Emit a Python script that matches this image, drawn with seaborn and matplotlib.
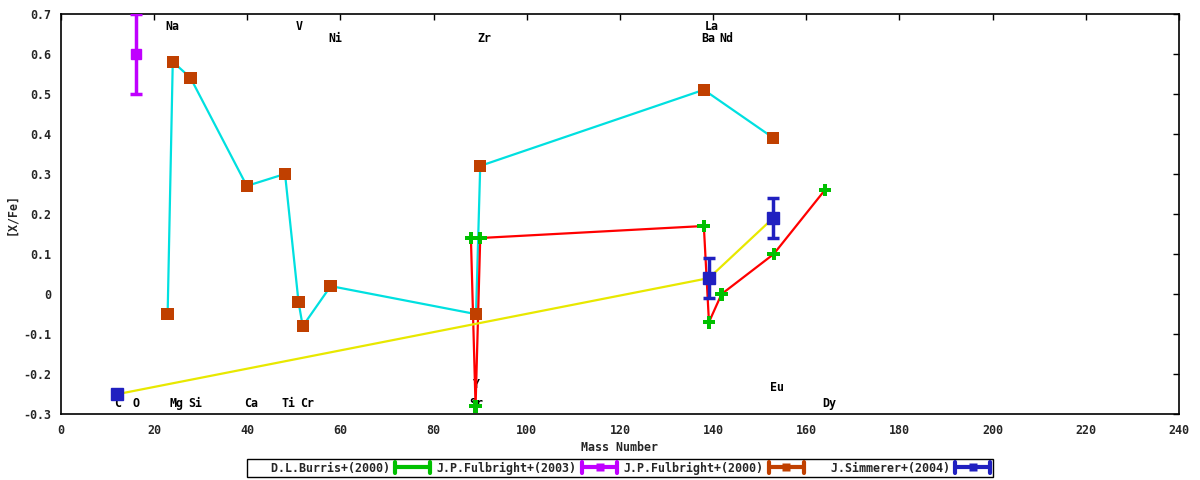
import matplotlib
matplotlib.use("Agg")
import matplotlib.pyplot as plt
import seaborn as sns
import pandas as pd
from matplotlib.legend_handler import HandlerBase
from matplotlib.lines import Line2D

# ---------------- data ----------------
burris_mass = [88.0, 89.0, 90.0, 138.0, 139.1, 141.8, 153.0, 164.0]
burris_xfe = [0.14, -0.28, 0.14, 0.17, -0.07, 0.00, 0.10, 0.26]

fulb03_mass = [16.1]
fulb03_xfe = [0.60]
fulb03_err = [0.10]

fulb00_mass = [22.9, 24.0, 27.8, 39.9, 48.1, 51.0, 51.9, 57.9, 89.1, 90.0, 138.0, 152.9]
fulb00_xfe = [-0.05, 0.58, 0.54, 0.27, 0.30, -0.02, -0.08, 0.02, -0.05, 0.32, 0.51, 0.39]

simm_mass = [12.0, 139.1, 152.9]
simm_xfe = [-0.25, 0.04, 0.19]
simm_err = [0.0, 0.05, 0.05]

elem_names = ["C", "O", "Mg", "Si", "Ca", "Ti", "Cr", "Sr", "Y",
              "Na", "V", "Ni", "Zr", "La", "Ba", "Nd", "Eu", "Dy"]
elem_x = [12.2, 16.1, 24.8, 28.8, 40.9, 48.9, 52.9, 89.1, 89.1,
          24.0, 51.1, 58.9, 90.8, 139.8, 139.0, 142.9, 153.8, 164.9]
elem_y = [-0.272, -0.272, -0.272, -0.272, -0.272, -0.272, -0.272, -0.272, -0.226,
          0.669, 0.669, 0.639, 0.639, 0.669, 0.639, 0.639, -0.233, -0.272]

series_names = ["D.L.Burris+(2000)", "J.P.Fulbright+(2003)",
                "J.P.Fulbright+(2000)", "J.Simmerer+(2004)"]

x_ticks = list(range(0, 241, 20))
y_ticks = [-0.3, -0.2, -0.1, 0, 0.1, 0.2, 0.3, 0.4, 0.5, 0.6, 0.7]
y_ticklabels = ["-0.3", "-0.2", "-0.1", "0", "0.1", "0.2", "0.3", "0.4", "0.5", "0.6", "0.7"]

# ---------------- style ----------------
FS = 8.4
sns.set_style("white")
plt.rcParams["font.family"] = ["DejaVu Sans Mono", "DejaVu Sans"]
plt.rcParams["font.weight"] = "bold"
plt.rcParams["font.size"] = FS

C_GREEN = "#00c000"
C_MAG = "#c000ff"
C_ORANGE = "#c04000"
C_BLUE = "#2020c0"
C_CYAN = "#00e0e0"
C_RED = "#ff0000"
C_YELLOW = "#e8e800"

df_b = pd.DataFrame({"mass": burris_mass, "xfe": burris_xfe})
df_f3 = pd.DataFrame({"mass": fulb03_mass, "xfe": fulb03_xfe, "err": fulb03_err})
df_f0 = pd.DataFrame({"mass": fulb00_mass, "xfe": fulb00_xfe})
df_s = pd.DataFrame({"mass": simm_mass, "xfe": simm_xfe, "err": simm_err})

fig = plt.figure(figsize=(12, 4.8), dpi=100)
ax = fig.add_axes([0.0508, 0.1369, 0.9317, 0.8346])

# connecting lines
sns.lineplot(data=df_f0, x="mass", y="xfe", sort=False, estimator=None,
             color=C_CYAN, lw=1.6, ax=ax, zorder=3)
sns.lineplot(data=df_b, x="mass", y="xfe", sort=False, estimator=None,
             color=C_RED, lw=1.6, ax=ax, zorder=3)
sns.lineplot(data=df_s, x="mass", y="xfe", sort=False, estimator=None,
             color=C_YELLOW, lw=1.6, ax=ax, zorder=3)

# markers
sns.scatterplot(data=df_f0, x="mass", y="xfe", marker="s", s=80, color=C_ORANGE,
                edgecolor="none", ax=ax, zorder=5)
sns.scatterplot(data=df_b, x="mass", y="xfe", marker="P", s=85, color=C_GREEN,
                edgecolor="none", ax=ax, zorder=6)
ax.errorbar(df_f3["mass"], df_f3["xfe"], yerr=df_f3["err"], fmt="s", ms=7,
            color=C_MAG, ecolor=C_MAG, elinewidth=2.5, capsize=4, capthick=2.5, zorder=6)
ax.errorbar(df_s["mass"], df_s["xfe"], yerr=df_s["err"], fmt="s", ms=8.5,
            color=C_BLUE, ecolor=C_BLUE, elinewidth=2.5, capsize=4, capthick=2.5, zorder=6)

# element labels
for name, x, y in zip(elem_names, elem_x, elem_y):
    ax.text(x, y, name, ha="center", va="center", fontsize=FS, fontweight="bold",
            color="black", zorder=2)

# axes
ax.set_xlim(0, 240)
ax.set_ylim(-0.3, 0.7)
ax.set_xticks(x_ticks)
ax.set_yticks(y_ticks)
ax.set_yticklabels(y_ticklabels)
ax.tick_params(direction="in", length=4, width=1, top=True, right=True,
               labelsize=FS, color="black")
ax.tick_params(axis="x", pad=7)
ax.tick_params(axis="y", pad=7)
for sp in ax.spines.values():
    sp.set_color("black")
    sp.set_linewidth(1.2)
ax.set_xlabel("Mass Number", fontsize=FS, fontweight="bold", labelpad=3)
ax.set_ylabel("[X/Fe]", fontsize=FS, fontweight="bold", labelpad=4)


# gnuplot-like legend samples
class GPHandler(HandlerBase):
    def create_artists(self, legend, orig_handle, xdescent, ydescent,
                       width, height, fontsize, trans):
        c = orig_handle.get_color()
        m = orig_handle.get_marker()
        ms = orig_handle.get_markersize()
        y = height / 2 - ydescent
        x0 = -xdescent
        x1 = -xdescent + width
        h = 4.0
        arts = [
            Line2D([x0, x1], [y, y], color=c, lw=3, transform=trans),
            Line2D([x0, x0], [y - h, y + h], color=c, lw=3, transform=trans),
            Line2D([x1, x1], [y - h, y + h], color=c, lw=3, transform=trans),
        ]
        if m not in (None, "None", ""):
            arts.append(Line2D([(x0 + x1) / 2], [y], color=c, marker=m, ms=ms,
                               ls="none", mec="none", transform=trans))
        return arts


handles = [
    Line2D([], [], color=C_GREEN, marker="None"),
    Line2D([], [], color=C_MAG, marker="s", markersize=6),
    Line2D([], [], color=C_ORANGE, marker="s", markersize=6),
    Line2D([], [], color=C_BLUE, marker="s", markersize=6),
]
width = max(len(s) for s in series_names)
labels = [s.rjust(width) for s in series_names]
leg = fig.legend(handles, labels, handler_map={Line2D: GPHandler()},
                 loc="center", bbox_to_anchor=(0.5167, 0.025),
                 bbox_transform=fig.transFigure, ncol=4, markerfirst=False,
                 frameon=True, fancybox=False, shadow=False, framealpha=1,
                 edgecolor="black", borderpad=0.2, handlelength=3.0,
                 handletextpad=0.5, columnspacing=0.5,
                 prop={"family": "DejaVu Sans Mono", "weight": "bold", "size": FS})
leg.get_frame().set_linewidth(1.0)

fig.savefig("out.png", dpi=100, facecolor="white")
